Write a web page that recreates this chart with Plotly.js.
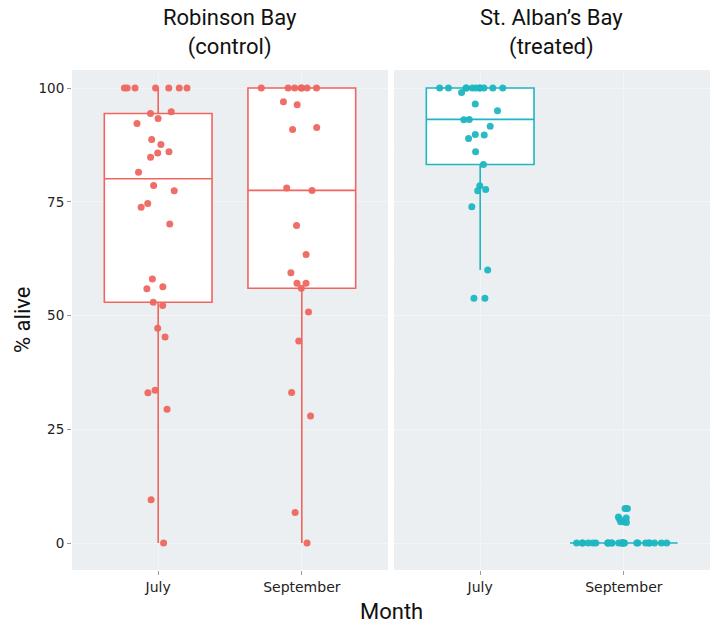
<!DOCTYPE html>
<html>
<head>
<meta charset="utf-8">
<script src="https://cdn.plot.ly/plotly-3.0.1.min.js"></script>
<style>html,body{margin:0;padding:0;background:#fff;}#chart{width:710px;height:626px;}</style>
</head>
<body>
<div id="chart"></div>
<script>
// ---- data ----
const months = ["July", "September"];
const panelTitles = ["Robinson Bay<br>(control)", "St. Alban\u2019s Bay<br>(treated)"];
const yTicks = [0, 25, 50, 75, 100];

const robinsonJuly = [100, 100, 100, 100, 100, 100, 100,
  94.8, 94.4, 93.3, 92.2, 88.7, 87.6, 86.0, 85.7, 84.8, 81.5, 78.6, 77.4, 74.6, 73.8, 70.1,
  58.0, 56.3, 55.9, 52.9, 52.2, 47.2, 45.3, 33.6, 33.0, 29.4, 9.5, 0];
const robinsonSeptember = [100, 100, 100, 100, 100, 100, 100,
  97.0, 96.3, 91.3, 90.9, 78.0, 77.5, 69.8, 63.4, 59.4, 57.1, 57.1, 56.0, 50.8, 44.4, 33.1, 27.9, 6.7, 0];
const albansJuly = [100, 100, 100, 100, 100, 100, 100, 100, 100, 100, 100,
  99.0, 96.5, 95.0, 93.1, 93.0, 91.6, 89.8, 89.7, 88.9, 86.0, 83.2,
  78.5, 77.7, 77.4, 73.9, 60.0, 53.8, 53.8];
const albansSeptember = [7.6, 7.6, 5.7, 5.5, 5.3, 4.7, 4.7, 4.5,
  0, 0, 0, 0, 0, 0, 0, 0, 0, 0, 0, 0, 0, 0, 0, 0, 0, 0, 0, 0, 0, 0, 0, 0, 0, 0];

const red = "#EE665F";
const teal = "#1DB6C1";

function boxTrace(vals, month, color, xa) {
  return {
    type: "box",
    x: vals.map(() => month),
    y: vals,
    xaxis: xa, yaxis: "y",
    boxpoints: "all",
    jitter: 0.9,
    pointpos: 0,
    width: 0.75,
    whiskerwidth: 0,
    quartilemethod: "inclusive",
    fillcolor: "#FFFFFF",
    line: {color: color, width: 1.6},
    marker: {color: color, size: 7, opacity: 0.95},
    hoverinfo: "skip",
    showlegend: false
  };
}

const traces = [
  boxTrace(robinsonJuly, months[0], red, "x"),
  boxTrace(robinsonSeptember, months[1], red, "x"),
  boxTrace(albansJuly, months[0], teal, "x2"),
  boxTrace(albansSeptember, months[1], teal, "x2")
];

const tickFam = "'DejaVu Sans', sans-serif";
const titleFam = "Roboto, 'Open Sans', sans-serif";
const panelBg = "#ECEFF1";
const grid = "#F2F4F6";

const xCommon = {
  type: "category",
  categoryorder: "array",
  categoryarray: months,
  range: [-0.6, 1.6],
  showgrid: true, gridcolor: grid, gridwidth: 1,
  zeroline: false, showline: false,
  ticks: "outside", ticklen: 4, tickcolor: "#999",
  tickfont: {family: tickFam, size: 14, color: "#222"},
  anchor: "y", fixedrange: true
};

function titleAnn(text, xp) {
  return {text: text, xref: "paper", yref: "paper", x: xp, y: 1, xanchor: "center", yanchor: "bottom",
          yshift: 8, showarrow: false, align: "center",
          font: {family: titleFam, size: 22, color: "#111"}};
}

const layout = {
  width: 710, height: 626,
  margin: {l: 72, r: 0, t: 70, b: 56},
  paper_bgcolor: "#FFFFFF",
  plot_bgcolor: panelBg,
  boxmode: "overlay",
  xaxis: Object.assign({}, xCommon, {domain: [0, 0.4953]}),
  xaxis2: Object.assign({}, xCommon, {domain: [0.5047, 1]}),
  yaxis: {
    range: [-5.93, 103.96],
    tickvals: yTicks,
    ticktext: yTicks.map(String),
    showgrid: true, gridcolor: grid, gridwidth: 1,
    minor: {tickvals: [12.5, 37.5, 62.5, 87.5], showgrid: true, gridcolor: "#F0F2F4", gridwidth: 0.6},
    zeroline: false, showline: false,
    ticks: "outside", ticklen: 4, tickcolor: "#999",
    tickfont: {family: tickFam, size: 13.5, color: "#222"},
    fixedrange: true
  },
  annotations: [
    titleAnn(panelTitles[0], 0.2477),
    titleAnn(panelTitles[1], 0.7523),
    {text: "Month", xref: "paper", yref: "paper", x: 0.5, y: 0, xanchor: "center", yanchor: "middle", yshift: -41,
     showarrow: false, font: {family: titleFam, size: 22, color: "#111"}},
    {text: "% alive", xref: "paper", yref: "paper", x: 0, y: 0.5, xanchor: "center", yanchor: "middle",
     xshift: -50, textangle: -90, showarrow: false, font: {family: titleFam, size: 22, color: "#111"}}
  ]
};

Plotly.newPlot("chart", traces, layout, {displayModeBar: false, staticPlot: true});
</script>
</body>
</html>
